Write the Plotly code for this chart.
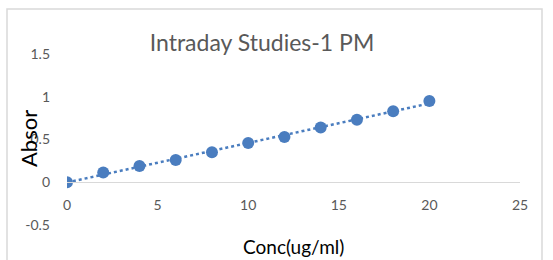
import numpy as np
import plotly.graph_objects as go

# Data
conc = [0, 2, 4, 6, 8, 10, 12, 14, 16, 18, 20]
absor = [0, 0.115, 0.19, 0.26, 0.35, 0.46, 0.53, 0.64, 0.73, 0.83, 0.95]
x_ticks = [0, 5, 10, 15, 20, 25]
y_ticks = [-0.5, 0, 0.5, 1, 1.5]
title_text = "Intraday Studies-1 PM"
x_title = "Conc(ug/ml)"
y_title = "Absor"

BLUE = "#4a7dbf"
GRAY = "#595959"
FONT = "Lato"

W, H = 553, 260
L, R, T, B = 67, 33, 54, 35
pw = W - L - R
ph = H - T - B

# linear trendline from the data
slope, intercept = np.polyfit(conc, absor, 1)
tx = [min(conc), max(conc)]
ty = [slope * v + intercept for v in tx]

fig = go.Figure()
fig.add_trace(go.Scatter(x=tx, y=ty, mode="lines",
                         line=dict(color=BLUE, width=2.5, dash="dot"),
                         hoverinfo="skip", showlegend=False))
fig.add_trace(go.Scatter(x=conc, y=absor, mode="markers",
                         marker=dict(color=BLUE, size=12),
                         showlegend=False))

def px_x(p):
    return (p - L) / pw

def px_y(p):
    return (H - B - p) / ph

fig.update_layout(
    width=W, height=H,
    margin=dict(l=L, r=R, t=T, b=B),
    paper_bgcolor="white", plot_bgcolor="white",
    font=dict(family=FONT, color=GRAY, size=14),
    title=dict(text=title_text, x=262 / W, y=1 - 43 / H,
               xanchor="center", yanchor="middle", xref="container", yref="container",
               font=dict(family=FONT, size=23, color=GRAY)),
    xaxis=dict(range=[0, 25], tickvals=x_ticks, ticktext=[str(v) for v in x_ticks],
               showgrid=False, zeroline=False, showline=True, linecolor="#d9d9d9",
               linewidth=1, anchor="free", position=0.25, ticks="",
               ticklabelstandoff=10, tickfont=dict(family=FONT, size=14, color=GRAY)),
    yaxis=dict(range=[-0.5, 1.5], tickvals=y_ticks,
               ticktext=[str(v) for v in y_ticks],
               showgrid=False, zeroline=False, showline=False, ticks="",
               ticklabelstandoff=16, tickfont=dict(family=FONT, size=14, color=GRAY)),
    annotations=[
        dict(text=y_title, xref="paper", yref="paper", x=px_x(28), y=px_y(139),
             xanchor="center", yanchor="middle", textangle=-90, showarrow=False,
             font=dict(family=FONT, size=22, color="black")),
        dict(text=x_title, xref="paper", yref="paper", x=0.5, y=px_y(246),
             xanchor="center", yanchor="middle", showarrow=False,
             font=dict(family=FONT, size=19, color="black")),
    ],
    shapes=[
        dict(type="rect", xref="paper", yref="paper",
             x0=px_x(7), x1=px_x(542), y0=px_y(280), y1=px_y(9),
             line=dict(color="#d9d9d9", width=1.5), fillcolor="rgba(0,0,0,0)",
             layer="below"),
    ],
)

fig.write_html("out.html")
